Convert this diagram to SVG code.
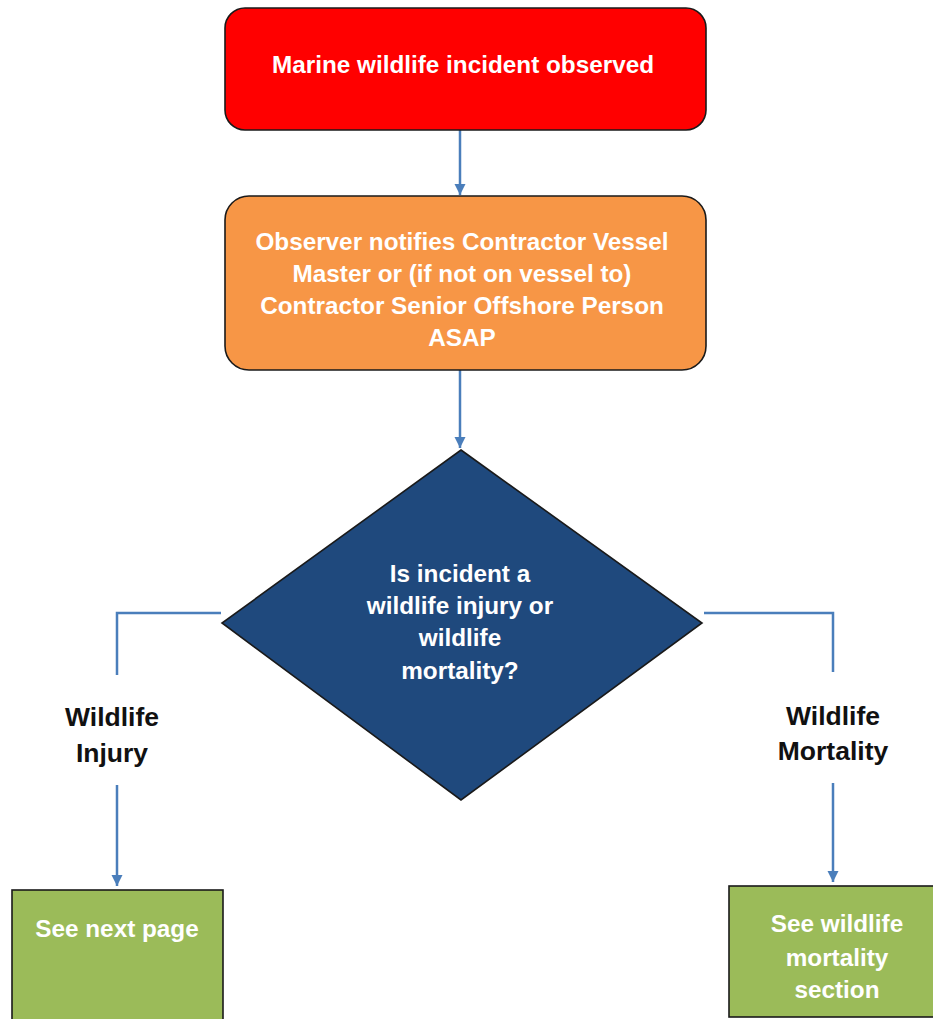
<svg xmlns="http://www.w3.org/2000/svg" width="933" height="1019" viewBox="0 0 933 1019">
  <defs>
    <marker id="arrow" viewBox="0 0 10 10" refX="10" refY="5" markerWidth="4.5" markerHeight="4.5" markerUnits="strokeWidth" orient="auto">
      <path d="M0,0 L10,5 L0,10 Z" fill="#4A7EBB"/>
    </marker>
  </defs>
  <style>
    .box { stroke: #1a1a1a; stroke-width: 1.6; }
    .wt { font-family: "Liberation Sans", Arial, sans-serif; font-weight: bold; font-size: 24.3px; fill: #ffffff; text-anchor: middle; }
    .bt { font-family: "Liberation Sans", Arial, sans-serif; font-weight: bold; font-size: 26.5px; fill: #111111; text-anchor: middle; }
    .conn { fill: none; stroke: #4A7EBB; stroke-width: 2.5; }
  </style>
  <rect width="933" height="1019" fill="#ffffff"/>

  <g id="connectors">
    <line class="conn" x1="460" y1="130" x2="460" y2="195" marker-end="url(#arrow)"/>
    <line class="conn" x1="460" y1="370" x2="460" y2="448" marker-end="url(#arrow)"/>
    <polyline class="conn" points="221,613 117,613 117,675"/>
    <line class="conn" x1="117" y1="785" x2="117" y2="886" marker-end="url(#arrow)"/>
    <polyline class="conn" points="704,613 833,613 833,672"/>
    <line class="conn" x1="833" y1="783" x2="833" y2="882" marker-end="url(#arrow)"/>
  </g>

  <g id="incident-observed">
    <rect class="box" x="225" y="8" width="481" height="122" rx="20" fill="#FF0000"/>
    <text class="wt" x="463" y="73">Marine wildlife incident observed</text>
  </g>

  <g id="observer-notifies">
    <rect class="box" x="225" y="196" width="481" height="174" rx="24" fill="#F79646"/>
    <text class="wt" x="462" y="250">Observer notifies Contractor Vessel</text>
    <text class="wt" x="462" y="282">Master or (if not on vessel to)</text>
    <text class="wt" x="462" y="314">Contractor Senior Offshore Person</text>
    <text class="wt" x="462" y="346">ASAP</text>
  </g>

  <g id="decision">
    <polygon class="box" points="461,450 702,623 461,800 222,623" fill="#1F497D"/>
    <text class="wt" x="460" y="582">Is incident a</text>
    <text class="wt" x="460" y="614">wildlife injury or</text>
    <text class="wt" x="460" y="646">wildlife</text>
    <text class="wt" x="460" y="679">mortality?</text>
  </g>

  <g id="label-injury">
    <text class="bt" x="112" y="726">Wildlife</text>
    <text class="bt" x="112" y="762">Injury</text>
  </g>

  <g id="label-mortality">
    <text class="bt" x="833" y="725">Wildlife</text>
    <text class="bt" x="833" y="760">Mortality</text>
  </g>

  <g id="see-next-page">
    <rect class="box" x="12" y="890" width="211" height="140" fill="#9BBB59"/>
    <text class="wt" x="117" y="937">See next page</text>
  </g>

  <g id="see-mortality-section">
    <rect class="box" x="729" y="886" width="206" height="131" fill="#9BBB59"/>
    <text class="wt" x="837" y="932">See wildlife</text>
    <text class="wt" x="837" y="966">mortality</text>
    <text class="wt" x="837" y="998">section</text>
  </g>
</svg>
